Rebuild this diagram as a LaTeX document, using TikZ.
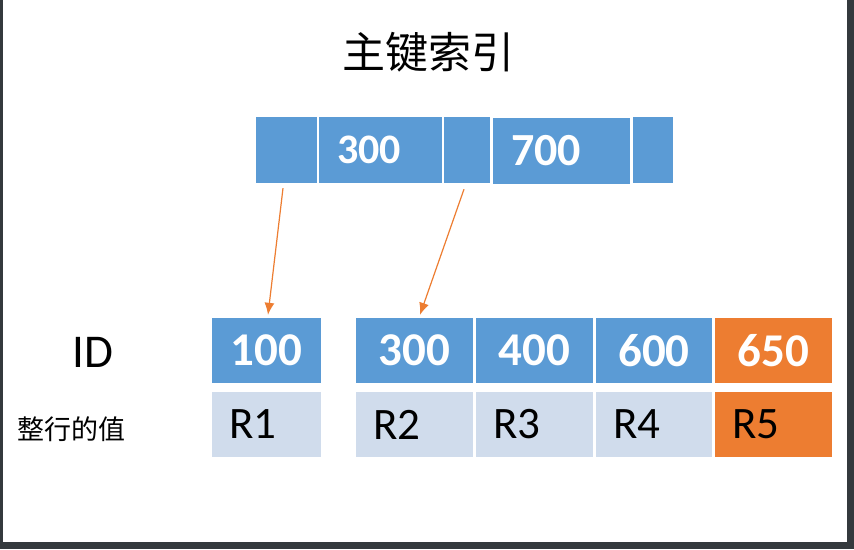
\documentclass[tikz,border=0pt]{standalone}
\usepackage{fontspec}
\setmainfont{Carlito}
\newfontfamily\cjk{Noto Sans CJK SC}
\usetikzlibrary{arrows.meta,calc}
\definecolor{keyblue}{RGB}{91,155,213}
\definecolor{rowblue}{RGB}{208,220,236}
\definecolor{hotorange}{RGB}{237,125,49}
\definecolor{framegray}{RGB}{52,57,61}

\begin{document}
\begin{tikzpicture}[x=1pt,y=-1pt,
  keycell/.style={fill=keyblue,text=white,inner xsep=18pt,inner ysep=0pt,minimum height=66pt,align=left},
  idcell/.style={fill=keyblue,text=white,inner sep=0pt,minimum width=#1,minimum height=65pt,font=\bfseries\fontsize{47}{47}\selectfont},
  rowcell/.style={fill=rowblue,inner xsep=17pt,inner ysep=0pt,text width=#1,align=left,minimum height=65pt,font=\fontsize{45}{45}\selectfont},
  link/.style={hotorange,line width=1.2pt,-{Latex[length=12pt,width=10pt]}}]
\useasboundingbox (0,0) rectangle (854,549);
\fill [framegray] (0,0) rectangle (854,549);
\fill [white] (3,0) rectangle (847,542);
\node (title) at (428,52) {\cjk\fontsize{43}{43}\selectfont 主键索引};
% upper node
\node [keycell,minimum width=61pt,inner xsep=0pt] (t1) at (286.5,150) {};
\node [keycell,text width=87pt,font=\bfseries\fontsize{42}{42}\selectfont] (t2) at (380.5,150) {300};
\node [keycell,minimum width=46pt,inner xsep=0pt] (t3) at (467,150) {};
\node [keycell,text width=101pt,font=\bfseries\fontsize{46}{46}\selectfont] (t4) at (561.5,151) {700};
\node [keycell,minimum width=40pt,inner xsep=0pt] (t5) at (653,150) {};
% leaves
\node [font=\fontsize{47}{47}\selectfont] (idlabel) at (93,352.5) {ID};
\node [font=\cjk\fontsize{27}{27}\selectfont] (rowlabel) at (71,429) {整行的值};
\node [idcell=109pt] (id1) at (266.5,350.5) {100};
\node [idcell=117pt] (id2) at (414.5,350.5) {300};
\node [idcell=117pt] (id3) at (534.5,350.5) {400};
\node [idcell=116pt] (id4) at (654,350.5) {600};
\node [idcell=117pt,fill=hotorange] (id5) at (773.5,350.5) {650};
\node [rowcell=75pt] (r1) at (266.5,424.5) {R1};
\node [rowcell=83pt] (r2) at (414.5,424.5) {R2};
\node [rowcell=83pt] (r3) at (534.5,424.5) {R3};
\node [rowcell=82pt] (r4) at (654,424.5) {R4};
\node [rowcell=83pt,fill=hotorange] (r5) at (773.5,424.5) {R5};
\draw [link] ($(t1.south)+(-3.5,5)$) -- ($(id1.north)+(1.5,-3)$);
\draw [link] ($(t3.south)+(-3,6)$) -- ($(id2.north)+(5.5,-3)$);
\end{tikzpicture}
\end{document}
